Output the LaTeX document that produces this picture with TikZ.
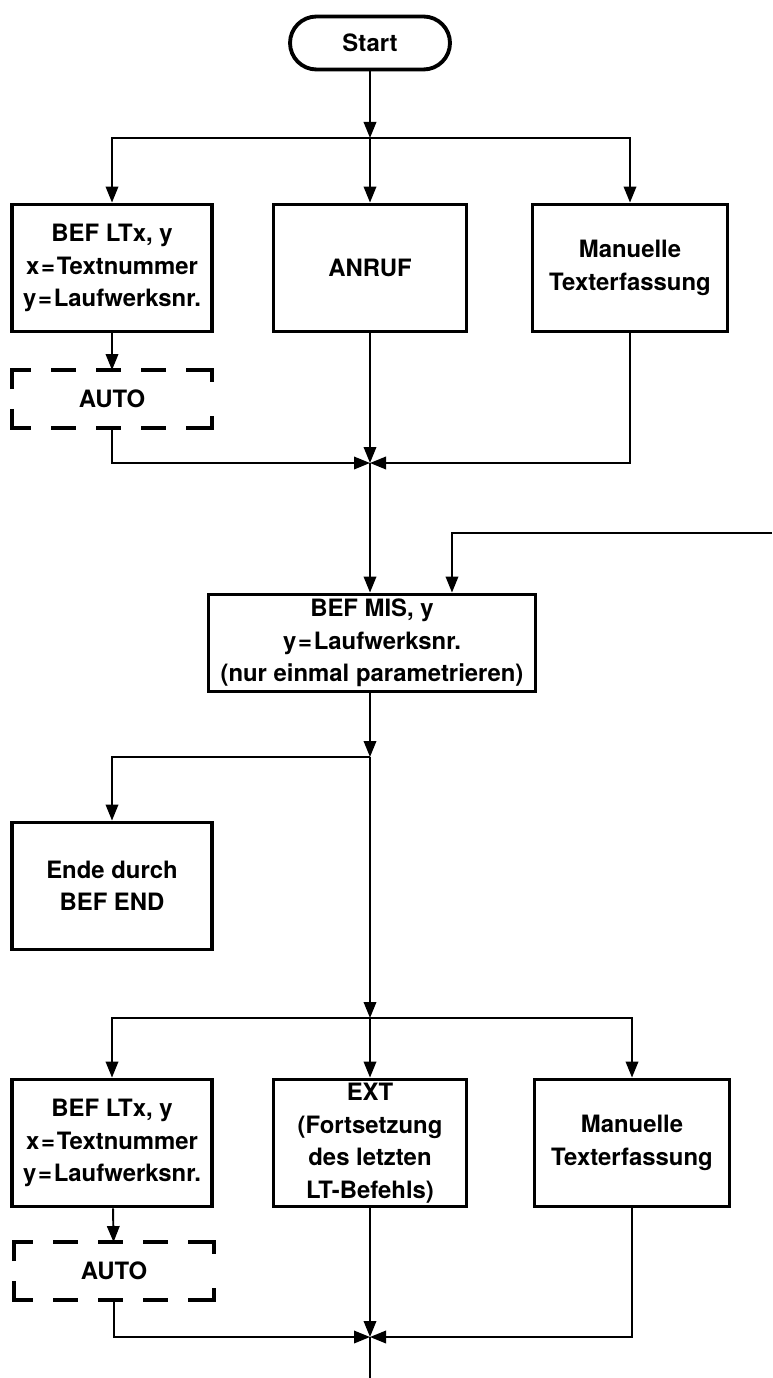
\documentclass[tikz,border=0pt]{standalone}
\usepackage{fontspec}
\setmainfont{TeX Gyre Heros}
\usetikzlibrary{positioning, arrows.meta}

\begin{document}
\begin{tikzpicture}[x=0.02cm, y=-0.02cm,
  box/.style={draw, rectangle, line width=2.2pt, align=center,
              minimum width=4cm, minimum height=2.54cm, inner sep=2pt,
              font=\fontsize{13.6}{18.5}\selectfont\bfseries},
  autobox/.style={box, draw=none, minimum width=3.92cm, minimum height=1.08cm},
  autorand/.style={line width=2.2pt,
                   dash pattern=on 0.76cm off 0.4cm on 0.5cm off 0.4cm on 0.5cm off 0.4cm
                                on 0.5cm off 0.4cm on 0.76cm off 0.4cm,
                   dash phase=4.82cm},
  term/.style={box, rounded corners=0.53cm, minimum width=3.2cm, minimum height=1.06cm},
  arr/.style={-{Triangle[length=0.32cm, width=0.25cm]}, line width=1.1pt},
  line/.style={line width=1.1pt}
]
  \useasboundingbox (0,0) rectangle (772,1378);

  % oberer Teil
  \node[term]                               (start) at (370,43)  {Start};
  \coordinate                               (ja)    at (370,138);
  \node[box]                                (ltxa)  at (112,268) {BEF LTx, y\\x\kern1pt=\kern1pt Textnummer\\y\kern1pt=\kern1pt Laufwerksnr.};
  \node[box, minimum width=3.86cm]          (anruf) at (370,268) {ANRUF};
  \node[box, minimum width=3.9cm]           (mana)  at (630,268) {Manuelle\\Texterfassung};
  \node[autobox]                            (autoa) at (112,399) {AUTO};
  \coordinate                               (ma)    at (370,463);
  \coordinate                               (rueck) at (772,533);
  \node[box, minimum width=6.54cm, minimum height=1.94cm]
                                            (mis)   at (372,643) {BEF MIS, y\\y\kern1pt=\kern1pt Laufwerksnr.\\(nur einmal parametrieren)};

  % unterer Teil
  \coordinate                               (jb)    at (370,757);
  \node[box]                                (ende)  at (112,886) {Ende durch\\BEF END};
  \coordinate                               (jc)    at (370,1018);
  \node[box]                                (ltxb)  at (112,1143) {BEF LTx, y\\x\kern1pt=\kern1pt Textnummer\\y\kern1pt=\kern1pt Laufwerksnr.};
  \node[box, minimum width=3.86cm]          (ext)   at (370,1143) {EXT\\(Fortsetzung\\des letzten\\LT-Befehls)};
  \node[box, minimum width=3.9cm]           (manb)  at (632,1143) {Manuelle\\Texterfassung};
  \node[autobox]                            (autob) at (114,1271) {AUTO};
  \coordinate                               (mb)    at (370,1337);
  \coordinate                               (weiter) at (370,1378);

  % gestrichelte Rahmen, Ecken durchgezogen
  \draw[autorand] (autoa.west) |- (autoa.north) -| (autoa.east);
  \draw[autorand] (autoa.west) |- (autoa.south) -| (autoa.east);
  \draw[autorand] (autob.west) |- (autob.north) -| (autob.east);
  \draw[autorand] (autob.west) |- (autob.south) -| (autob.east);

  \draw[arr] (start) -- (ja);
  \draw[arr] (ja) -| (ltxa);
  \draw[arr] (ja) -- (anruf);
  \draw[arr] (ja) -| (mana);
  \draw[arr] (ltxa) -- (autoa);
  \draw[arr] (autoa) |- (ma);
  \draw[arr] (anruf) -- (ma);
  \draw[arr] (mana) |- (ma);
  \draw[arr] (ma) -- (ma |- mis.north);
  \draw[arr] (rueck) -| ([xshift=1.6cm]mis.north);
  \draw[arr] (mis.south -| jb) -- (jb);
  \draw[arr] (jb) -| (ende);
  \draw[arr] (jb) -- (jc);
  \draw[arr] (jc) -| (ltxb);
  \draw[arr] (jc) -- (ext);
  \draw[arr] (jc) -| (manb);
  \draw[arr] (ltxb) -- (autob);
  \draw[arr] (autob) |- (mb);
  \draw[arr] (ext) -- (mb);
  \draw[arr] (manb) |- (mb);
  \draw[line] (mb) -- (weiter);
\end{tikzpicture}
\end{document}
